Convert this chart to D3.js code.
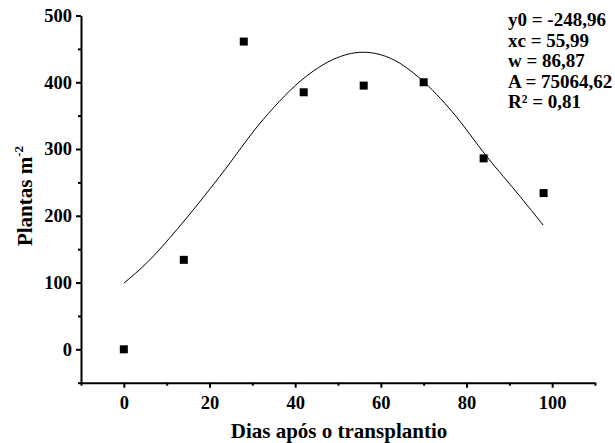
<!DOCTYPE html>
<html>
<head>
<meta charset="utf-8">
<script src="https://cdn.jsdelivr.net/npm/d3@7"></script>
<style>
  body { margin: 0; background: #fff; }
  svg { display: block; }
  svg text { font-family: "Liberation Serif", "Times New Roman", serif !important; font-weight: bold; fill: #000; }
</style>
</head>
<body>
<svg id="chart" width="615" height="443"></svg>
<script>
// dados observados (dias após o transplantio x plantas por m2)
const dias = [0, 14, 28, 42, 56, 70, 84, 98];
const plantas = [0, 134, 461, 385, 395, 400, 286, 234];

// curva ajustada
const ajusteX = [0, 5.6, 12.6, 22.4, 32.5, 42.6, 48.8, 55.8, 62.9, 69.1, 76.9, 84.7, 92.5, 97.9];
const ajusteY = [99, 131, 181, 259, 344, 409, 434, 445, 434, 406, 354, 289, 229, 186];

// marcas dos eixos
const xMajor = [0, 20, 40, 60, 80, 100];
const xMinor = [-10, 10, 30, 50, 70, 90, 110];
const yMajor = [0, 100, 200, 300, 400, 500];
const yMinor = [-50, 50, 150, 250, 350, 450];

// parâmetros do ajuste
const parametros = ["y0 = -248,96", "xc = 55,99", "w = 86,87", "A = 75064,62", "R² = 0,81"];

const svg = d3.select("#chart");

const x = d3.scaleLinear().domain([-10, 110]).range([81, 595]);
const y = d3.scaleLinear().domain([-50, 500]).range([382.7, 15.5]);

// eixo X (maiores com rótulo, menores sem)
const gx = svg.append("g").attr("transform", `translate(0, ${y(-50)})`);
gx.call(d3.axisBottom(x).tickValues(xMajor).tickSize(5).tickSizeOuter(0).tickPadding(8));
gx.append("g")
  .call(d3.axisBottom(x).tickValues(xMinor).tickSize(3).tickFormat(""))
  .select(".domain").remove();

const gy = svg.append("g").attr("transform", `translate(${x(-10)}, 0)`);
gy.call(d3.axisLeft(y).tickValues(yMajor).tickSize(5).tickSizeOuter(0).tickPadding(4));
gy.append("g")
  .call(d3.axisLeft(y).tickValues(yMinor).tickSize(3).tickFormat(""))
  .select(".domain").remove();

svg.selectAll(".domain").attr("stroke", "#000").attr("stroke-width", 2);
svg.selectAll(".tick line").attr("stroke", "#000").attr("stroke-width", 2);
svg.selectAll(".tick text").style("font-size", "18.5px");

// curva ajustada
const pontosCurva = ajusteX.map((d, i) => [d, ajusteY[i]]);
svg.append("path")
  .datum(pontosCurva)
  .attr("fill", "none")
  .attr("stroke", "#000")
  .attr("stroke-width", 1)
  .attr("d", d3.line().x(d => x(d[0])).y(d => y(d[1])).curve(d3.curveMonotoneX));

// pontos observados (quadrados)
const lado = 8;
svg.selectAll("rect.ponto")
  .data(dias.map((d, i) => [d, plantas[i]]))
  .enter()
  .append("rect")
  .attr("class", "ponto")
  .attr("x", d => x(d[0]) - lado / 2)
  .attr("y", d => y(d[1]) - lado / 2)
  .attr("width", lado)
  .attr("height", lado)
  .attr("fill", "#000");

// títulos dos eixos
svg.append("text")
  .attr("x", 339)
  .attr("y", 438)
  .attr("text-anchor", "middle")
  .style("font-size", "21px")
  .text("Dias após o transplantio");

const ty = svg.append("text")
  .attr("transform", "translate(32, 196) rotate(-90)")
  .attr("text-anchor", "middle")
  .style("font-size", "21px");
ty.append("tspan").text("Plantas m");
ty.append("tspan").attr("dy", -9).style("font-size", "13px").text("-2");

// parâmetros
svg.append("g")
  .selectAll("text")
  .data(parametros)
  .enter()
  .append("text")
  .attr("x", 508)
  .attr("y", (d, i) => 26 + i * 20.5)
  .style("font-size", "19px")
  .text(d => d);
</script>
</body>
</html>
